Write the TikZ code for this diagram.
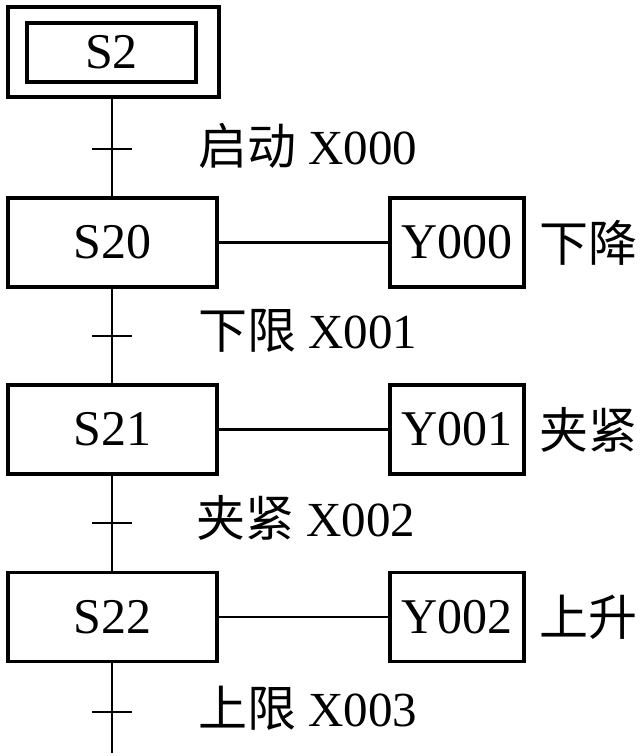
\documentclass[tikz,border=0pt]{standalone}
\usepackage{fontspec}
\setmainfont{Liberation Serif}
\newfontfamily\cjk{Noto Sans CJK SC}
\begin{document}
\begin{tikzpicture}[x=1pt,y=-1pt,
  box/.style={draw,line width=3.5pt,inner sep=0pt,font=\fontsize{50}{52}\selectfont},
  stepbox/.style={box,minimum width=209pt,minimum height=89pt},
  actbox/.style={box,minimum width=134pt,minimum height=89pt},
  lbl/.style={anchor=west,inner sep=0pt,font=\fontsize{49}{51}\selectfont},
  link/.style={line width=2.2pt},
  tickmark/.style={line width=2.2pt}]
\useasboundingbox (0,0) rectangle (640,756);
% initial step
\node[draw,line width=3.5pt,inner sep=0pt,minimum width=211pt,minimum height=90pt] (S2o) at (113.5,52) {};
\node[box,minimum width=169pt,minimum height=59pt] (S2) at (111.5,52.5) {S2};
% steps
\node[stepbox] (S20) at (112.5,242.5) {S20};
\node[stepbox] (S21) at (112.5,429.5) {S21};
\node[stepbox] (S22) at (112.5,617) {S22};
% actions
\node[actbox] (Y0) at (457,242.5) {Y000};
\node[actbox] (Y1) at (457,429.5) {Y001};
\node[actbox] (Y2) at (457,617) {Y002};
\draw[link] (S20) -- (Y0);
\draw[link] (S21) -- (Y1);
\draw[link] (S22) -- (Y2);
\node[lbl] (a0) at (539,242.5) {\cjk 下降};
\node[lbl] (a1) at (539,429.5) {\cjk 夹紧};
\node[lbl] (a2) at (539,617) {\cjk 上升};
% vertical links and transitions
\coordinate (t1) at (112,149);
\coordinate (t2) at (112,336);
\coordinate (t3) at (112,523);
\coordinate (t4) at (112,712);
\coordinate (end) at (112,753);
\draw[link] (S2o.south -| t1) -- (S20.north -| t1);
\draw[link] (S20.south -| t1) -- (S21.north -| t1);
\draw[link] (S21.south -| t1) -- (S22.north -| t1);
\draw[link] (S22.south -| t1) -- (end);
\foreach \t in {t1,t2,t3,t4}
  \draw[tickmark] ([xshift=-20pt]\t) -- ([xshift=20pt]\t);
\node[lbl] (c1) at (198,146) {{\cjk 启动} X000};
\node[lbl] (c2) at (198,331) {{\cjk 下限} X001};
\node[lbl] (c3) at (196,518) {{\cjk 夹紧} X002};
\node[lbl] (c4) at (198,708) {{\cjk 上限} X003};
\end{tikzpicture}
\end{document}
